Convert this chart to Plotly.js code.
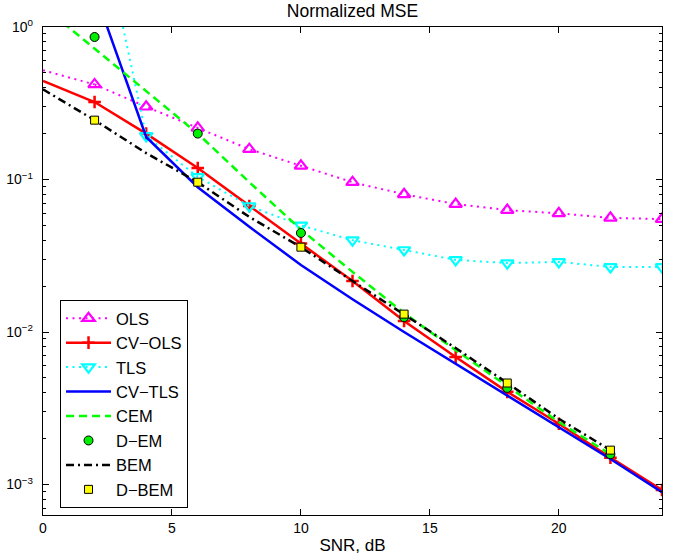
<!DOCTYPE html>
<html>
<head>
<meta charset="utf-8">
<script src="https://cdn.plot.ly/plotly-3.0.1.min.js"></script>
<style>html,body{margin:0;padding:0;background:#fff}#chart{width:677px;height:559px}</style>
</head>
<body>
<div id="chart"></div>
<script>
// ---- data ----
const snr = [0, 2, 4, 6, 8, 10, 12, 14, 16, 18, 20, 22, 24];
const olsMSE   = [0.52, 0.42, 0.30, 0.218, 0.158, 0.123, 0.096, 0.080, 0.069, 0.063, 0.060, 0.056, 0.055];
const cvOlsMSE = [0.443, 0.322, 0.20, 0.119, 0.067, 0.038, 0.0216, 0.0118, 0.00685, 0.00405, 0.0025, 0.0015, 0.00092];
const tlsMSE   = [null, 7.5, 0.193, 0.104, 0.067, 0.050, 0.040, 0.0345, 0.0297, 0.0283, 0.0288, 0.0267, 0.0267];
const cvTlsMSE = [null, 1.71, 0.19, 0.089, 0.049, 0.0275, 0.0164, 0.0100, 0.0062, 0.00386, 0.00238, 0.00147, 0.00089];
const cemMSE   = [1.37, 0.72, 0.38, 0.20, 0.096, 0.047, 0.0248, 0.0133, 0.0076, 0.0044, 0.00257, 0.00158, null];
const bemMSE   = [0.39, 0.245, 0.149, 0.096, 0.0568, 0.036, 0.0216, 0.0131, 0.00785, 0.00463, 0.0027, 0.00168, null];
const dSNR     = [2, 6, 10, 14, 18, 22];
const demMSE   = [0.86, 0.20, 0.0446, 0.0125, 0.0043, 0.00158];
const dbemMSE  = [0.245, 0.096, 0.036, 0.0131, 0.00463, 0.00168];
const seriesNames = ['OLS', 'CV\u2212OLS', 'TLS', 'CV\u2212TLS', 'CEM', 'D\u2212EM', 'BEM', 'D\u2212BEM'];
const yTickVals = [1e-3, 1e-2, 1e-1, 1];
const yTickText = ['10<sup>\u22123</sup>', '10<sup>\u22122</sup>', '10<sup>\u22121</sup>', '10<sup>0</sup>'];
const xTickVals = [0, 5, 10, 15, 20];

// minor tick values on the log axis
const yMinor = [];
for (let d = -4; d <= -1; d++) for (let m = 2; m <= 9; m++) { const v = m * Math.pow(10, d); if (v >= 6.3e-4) yMinor.push(v); }

const FONT = 'Liberation Sans, Arial, Helvetica, sans-serif';
const dotted = '2px,4.5px';
const LW = 2.5;

const olsStyle = {color: '#ff00ff', width: 2, dash: dotted};
const cvOlsStyle = {color: '#ff0000', width: LW};
const traces = [
  {x: snr.slice(0, 2), y: olsMSE.slice(0, 2), mode: 'lines', line: olsStyle, showlegend: false, hoverinfo: 'skip'},
  {x: snr.slice(1), y: olsMSE.slice(1), name: seriesNames[0], mode: 'lines+markers', line: olsStyle,
   marker: {symbol: 'triangle-up-open', size: 11, color: '#ff00ff', line: {width: 2.2, color: '#ff00ff'}}},
  {x: snr.slice(0, 2), y: cvOlsMSE.slice(0, 2), mode: 'lines', line: cvOlsStyle, showlegend: false, hoverinfo: 'skip'},
  {x: snr.slice(1), y: cvOlsMSE.slice(1), name: seriesNames[1], mode: 'lines+markers', line: cvOlsStyle,
   marker: {symbol: 'cross-thin', size: 9, color: '#ff0000', line: {width: 2.5, color: '#ff0000'}}},
  {x: snr, y: tlsMSE, name: seriesNames[2], mode: 'lines+markers', line: {color: '#00ffff', width: 2, dash: dotted},
   marker: {symbol: 'triangle-down-open', size: 11, color: '#00ffff', line: {width: 2.2, color: '#00ffff'}}},
  {x: snr, y: cvTlsMSE, name: seriesNames[3], mode: 'lines', line: {color: '#0000ff', width: LW}},
  {x: snr, y: cemMSE, name: seriesNames[4], mode: 'lines', line: {color: '#00ff00', width: LW, dash: '8px,5px'}},
  {x: dSNR, y: demMSE, name: seriesNames[5], mode: 'markers',
   marker: {symbol: 'circle', size: 9, color: '#00ee00', line: {width: 1, color: '#000'}}},
  {x: snr, y: bemMSE, name: seriesNames[6], mode: 'lines', line: {color: '#000000', width: LW, dash: '8px,4px,2px,4px'}},
  {x: dSNR, y: dbemMSE, name: seriesNames[7], mode: 'markers',
   marker: {symbol: 'square', size: 8, color: '#ffff00', line: {width: 1, color: '#000'}}}
];

const layout = {
  width: 677, height: 559,
  margin: {l: 43, r: 15, t: 27, b: 44},
  paper_bgcolor: '#fff', plot_bgcolor: '#fff',
  font: {family: FONT, color: '#000', size: 14},
  showlegend: true,
  title: {text: 'Normalized MSE', font: {family: FONT, size: 17.5, color: '#000'},
          x: 0.5, xref: 'paper', y: 1 - 11 / 559, yref: 'container', yanchor: 'middle'},
  xaxis: {
    range: [0, 24], tickmode: 'array', tickvals: xTickVals,
    ticks: 'inside', ticklen: 6, tickwidth: 1, tickcolor: '#000',
    showline: true, linecolor: '#000', linewidth: 1.2, mirror: 'ticks',
    showgrid: false, zeroline: false,
    tickfont: {family: FONT, size: 14, color: '#000'},
    title: {text: 'SNR, dB', font: {family: FONT, size: 17, color: '#000'}, standoff: 4}
  },
  yaxis: {
    type: 'log', range: [-3.2, 0], tickmode: 'array', tickvals: yTickVals, ticktext: yTickText,
    ticks: 'inside', ticklen: 6, tickwidth: 1, tickcolor: '#000',
    minor: {tickmode: 'array', tickvals: yMinor, ticks: 'inside', ticklen: 3, tickcolor: '#000', showgrid: false},
    showline: true, linecolor: '#000', linewidth: 1.2, mirror: 'ticks',
    showgrid: false, zeroline: false,
    ticklabelstandoff: 6,
    tickfont: {family: FONT, size: 14, color: '#000'}
  },
  legend: {
    x: 0.0275, y: 0.4406, xanchor: 'left', yanchor: 'top',
    bgcolor: '#fff', bordercolor: '#000', borderwidth: 1,
    itemwidth: 45,
    font: {family: FONT, size: 16.5, color: '#000'}
  }
};

Plotly.newPlot('chart', traces, layout, {staticPlot: true, displayModeBar: false});
</script>
</body>
</html>
